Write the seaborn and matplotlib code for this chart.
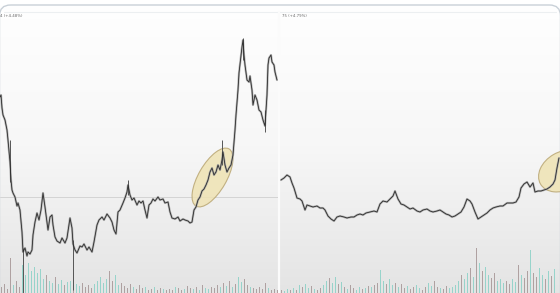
import numpy as np
import matplotlib
matplotlib.use("Agg")
import matplotlib.pyplot as plt
import seaborn as sns
import pandas as pd
from matplotlib.patches import Ellipse, FancyBboxPatch

sns.set_theme(style="white")
plt.rcParams['font.family'] = ['DejaVu Sans']

# ---------------- data ----------------
left_t = [0, 1, 2, 3, 5, 7, 8, 10, 11, 12, 13, 15, 17, 18, 20, 22, 23, 25, 27, 28, 30, 32, 33, 35, 37, 39,
          41, 43, 45, 47, 48, 50, 52, 53, 55, 57, 60, 62, 65, 67, 69, 70, 72, 73, 75, 77, 80, 82, 84, 87,
          89, 92, 94, 97, 99, 102, 104, 107, 110, 112, 114, 116, 118, 120, 123, 125, 127, 128, 130, 132,
          134, 137, 139, 141, 143, 145, 147, 149, 151, 153, 155, 158, 160, 163, 165, 168, 170, 172, 175,
          178, 180, 183, 185, 188, 190, 192, 194, 196, 198, 200, 202, 204, 206, 208, 210, 212, 214, 216,
          218, 220, 222, 223, 225, 227, 229, 231, 233, 235, 236, 238, 239, 241, 242, 243, 244, 245, 247,
          249, 250, 252, 253, 255, 257, 259, 261, 263, 265, 266, 267, 268, 269, 271, 272, 274, 275, 277]
left_price = [203, 205, 192, 185, 180, 170, 160, 138, 120, 110, 107, 103, 94, 97, 90, 68, 48, 52, 44, 48,
              46, 50, 65, 78, 87, 80, 90, 107, 93, 78, 70, 83, 85, 75, 63, 59, 57, 62, 57, 62, 75, 82, 72,
              56, 50, 47, 54, 53, 56, 50, 53, 48, 58, 75, 80, 83, 80, 86, 82, 78, 70, 66, 88, 90, 97, 102,
              108, 115, 105, 100, 102, 95, 99, 97, 99, 90, 82, 95, 97, 101, 99, 103, 100, 101, 97, 98, 88,
              82, 81, 83, 79, 81, 80, 79, 77, 78, 90, 93, 100, 103, 109, 111, 115, 120, 128, 132, 125, 128,
              135, 130, 140, 148, 135, 128, 132, 135, 145, 170, 185, 210, 227, 245, 253, 260, 245, 235,
              220, 218, 224, 210, 195, 205, 200, 190, 188, 180, 174, 190, 205, 235, 242, 245, 238, 235,
              228, 220]

right_t = [281, 284, 287, 290, 292, 294, 297, 300, 302, 305, 307, 310, 313, 317, 320, 323, 325, 328, 331,
           334, 337, 340, 344, 347, 351, 354, 357, 360, 363, 366, 370, 374, 377, 380, 383, 387, 390, 393,
           395, 398, 401, 404, 407, 410, 413, 417, 420, 423, 427, 430, 433, 437, 440, 443, 446, 449, 452,
           455, 458, 461, 464, 467, 470, 472, 475, 478, 481, 484, 487, 490, 493, 496, 500, 503, 507, 510,
           513, 516, 519, 521, 524, 527, 530, 533, 535, 538, 541, 544, 547, 550, 553, 555, 557, 559]
right_price = [120, 122, 125, 123, 117, 112, 102, 101, 99, 90, 95, 94, 93, 94, 92, 92, 90, 84, 81, 79, 83,
               84, 83, 82, 83, 83, 85, 86, 85, 87, 88, 89, 88, 96, 99, 98, 101, 104, 109, 101, 96, 95, 93,
               91, 92, 89, 88, 90, 91, 89, 88, 89, 90, 88, 86, 85, 83, 84, 86, 88, 93, 101, 99, 96, 88, 81,
               83, 85, 87, 90, 92, 93, 94, 94, 97, 97, 97, 98, 103, 112, 116, 118, 113, 117, 108, 109, 109,
               110, 111, 113, 116, 120, 132, 142]

# notable wicks: time, high, low
wick_t = [23, 73, 128, 222, 243, 265, 10]
wick_hi = [52, 60, 120, 160, 262, 190, 160]
wick_lo = [7, 10, 105, 135, 240, 168, 118]

left_vol = [6, 9, 4, 35, 8, 12, 6, 28, 18, 30, 22, 26, 20, 24, 14, 18, 12, 10, 16, 9, 13, 8, 11,
            12, 20, 9, 7, 10, 6, 8, 5, 9, 12, 16, 10, 14, 22, 12, 18, 8, 10, 7, 5, 9, 6, 4, 8, 5, 6,
            3, 4, 6, 3, 5, 4, 3, 4, 3, 6, 5, 3, 4, 7, 5, 4, 6, 3, 8, 5, 4, 6, 5, 8, 6, 10, 7, 12, 6,
            9, 16, 11, 14, 8, 6, 5, 4, 6, 4, 10, 5, 3, 4, 3]
left_vol_dir = ("ddd" "d" "udd" "uuuuuuu" "uduuduudu" "uduudddd" "uuuuudduud"
                "dddudddud" "duddud" "ddudduddudud" "uudd" "dudududuudduddd" "ddudddd")
right_vol = [3, 2, 4, 3, 5, 3, 8, 6, 9, 5, 7, 4, 3, 5, 8, 12, 15, 10, 16, 9, 11, 6, 4, 8, 5, 3, 6, 4,
             5, 7, 6, 8, 10, 23, 12, 9, 14, 8, 10, 6, 9, 5, 7, 4, 6, 8, 5, 3, 6, 10, 7, 12, 6, 5, 4, 7,
             5, 6, 8, 12, 18, 14, 20, 25, 16, 45, 30, 22, 26, 18, 15, 20, 12, 14, 10, 12, 9, 14, 11,
             28, 18, 15, 22, 43, 20, 16, 25, 18, 14, 22, 17, 24, 19]
right_vol_dir = ("duudud" "uduudud" "duuduudu" "dudduudud" "udduuduu" "duddudduud"
                 "duuddudduu" "uuduudud" "uduudduu" "udduudud" "dudduududu")

left_label = "4 (+4.48%)"
right_label = "75 (+4.79%)"

# ---------------- figure ----------------
W, H = 560, 293
fig = plt.figure(figsize=(W / 100, H / 100), dpi=100)

bg = fig.add_axes([0, 0, 1, 1])
grad = np.linspace(0, 1, 256)[:, None]
cmap = matplotlib.colors.LinearSegmentedColormap.from_list("bg", ["#ffffff", "#f7f7f7", "#e4e4e4"])
bg.imshow(grad, aspect="auto", cmap=cmap, extent=[0, W, H, 0], zorder=0)
bg.set_xlim(0, W)
bg.set_ylim(H, 0)
bg.axis("off")
bg.add_patch(plt.Rectangle((0, 0), W, 5, color="white", zorder=1))
frame = FancyBboxPatch((-0.5, 5), 561, 400, boxstyle="round,pad=0,rounding_size=11",
                       fill=False, edgecolor="#c9d1d8", linewidth=1.0, zorder=2)
bg.add_patch(frame)
bg.plot([4, 556], [12, 12], color="#eceff1", lw=0.8, zorder=2)
bg.plot([279, 279], [12, H], color="#fbfbfb", lw=1.6, zorder=2)

YLO, YHI = 300 - H, 300

def panel(rect, xlim, t, price, vol, vdir, label, ell, tx):
    ax = fig.add_axes(rect)
    ax.patch.set_alpha(0)
    ax.set_xlim(*xlim)
    ax.set_ylim(YLO, YHI)
    ax.axis("off")
    # volume
    cols = ["#8fd2c8" if d == "u" else "#a99a9a" for d in vdir]
    xs = [xlim[0] + 1.5 + 3 * i for i in range(len(vol))]
    n = min(len(xs), len(cols))
    ax.bar(xs[:n], vol[:n], bottom=YLO, width=1.4, color=cols[:n], alpha=0.9, zorder=2, linewidth=0)
    # highlight ellipse
    cx, cy, w, h, ang = ell
    ax.add_patch(Ellipse((cx, cy), w, h, angle=ang, facecolor="#efe3b3", alpha=0.85,
                         edgecolor="#b9a673", linewidth=0.8, zorder=3))
    df = pd.DataFrame({"t": t, "price": price})
    sns.lineplot(data=df, x="t", y="price", ax=ax, color="#a5a5a5", lw=1.6, alpha=0.8, zorder=4)
    sns.lineplot(data=df, x="t", y="price", ax=ax, color="#2b2b2b", lw=0.6, zorder=5)
    ax.text(tx, 300 - 17, label, fontsize=2.8, color="#666666", zorder=6)
    ax.axis("off")
    return ax

axl = panel([0, 0, 278 / W, 1], (0, 278), left_t, left_price, left_vol, left_vol_dir, left_label,
            (212.5, 122.5, 66, 28, 60), 0.5)
axl.plot([0, 278], [103, 103], color="#cfcfcf", lw=0.6, zorder=1)
axl.vlines(wick_t, wick_lo, wick_hi, color="#555555", lw=0.7, zorder=4)

axr = panel([280 / W, 0, 280 / W, 1], (280, 560), right_t, right_price, right_vol, right_vol_dir,
            right_label, (563, 129, 52, 38, 30), 282)

fig.savefig("out.png", dpi=100)
